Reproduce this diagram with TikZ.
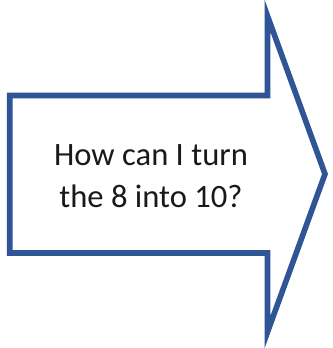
\documentclass[tikz,border=0pt]{standalone}
\usepackage{fontspec}
\setmainfont{Carlito}
\definecolor{arrowblue}{RGB}{47,85,151}
\definecolor{textgray}{RGB}{25,25,25}
\tikzset{
  arrowshape/.style={draw=arrowblue, line width=5.6pt, line join=miter, miter limit=20, fill=white},
  label/.style={text=textgray, align=center, inner sep=0pt, font=\fontsize{32.6}{42}\selectfont}
}
\begin{document}
\begin{tikzpicture}[x=1pt,y=-1pt]
\useasboundingbox (0,0) rectangle (332,348);
\fill[white] (0,0) rectangle (332,348);
\draw[arrowshape] (9.7,95.5) -- (267.5,95.5) -- (267.5,16) -- (325,174) -- (267.5,332) -- (267.5,253) -- (9.7,253) -- cycle;
\node[label, anchor=base] (q) at (151,207) {How can I turn\\the 8 into 10?};
\end{tikzpicture}
\end{document}
